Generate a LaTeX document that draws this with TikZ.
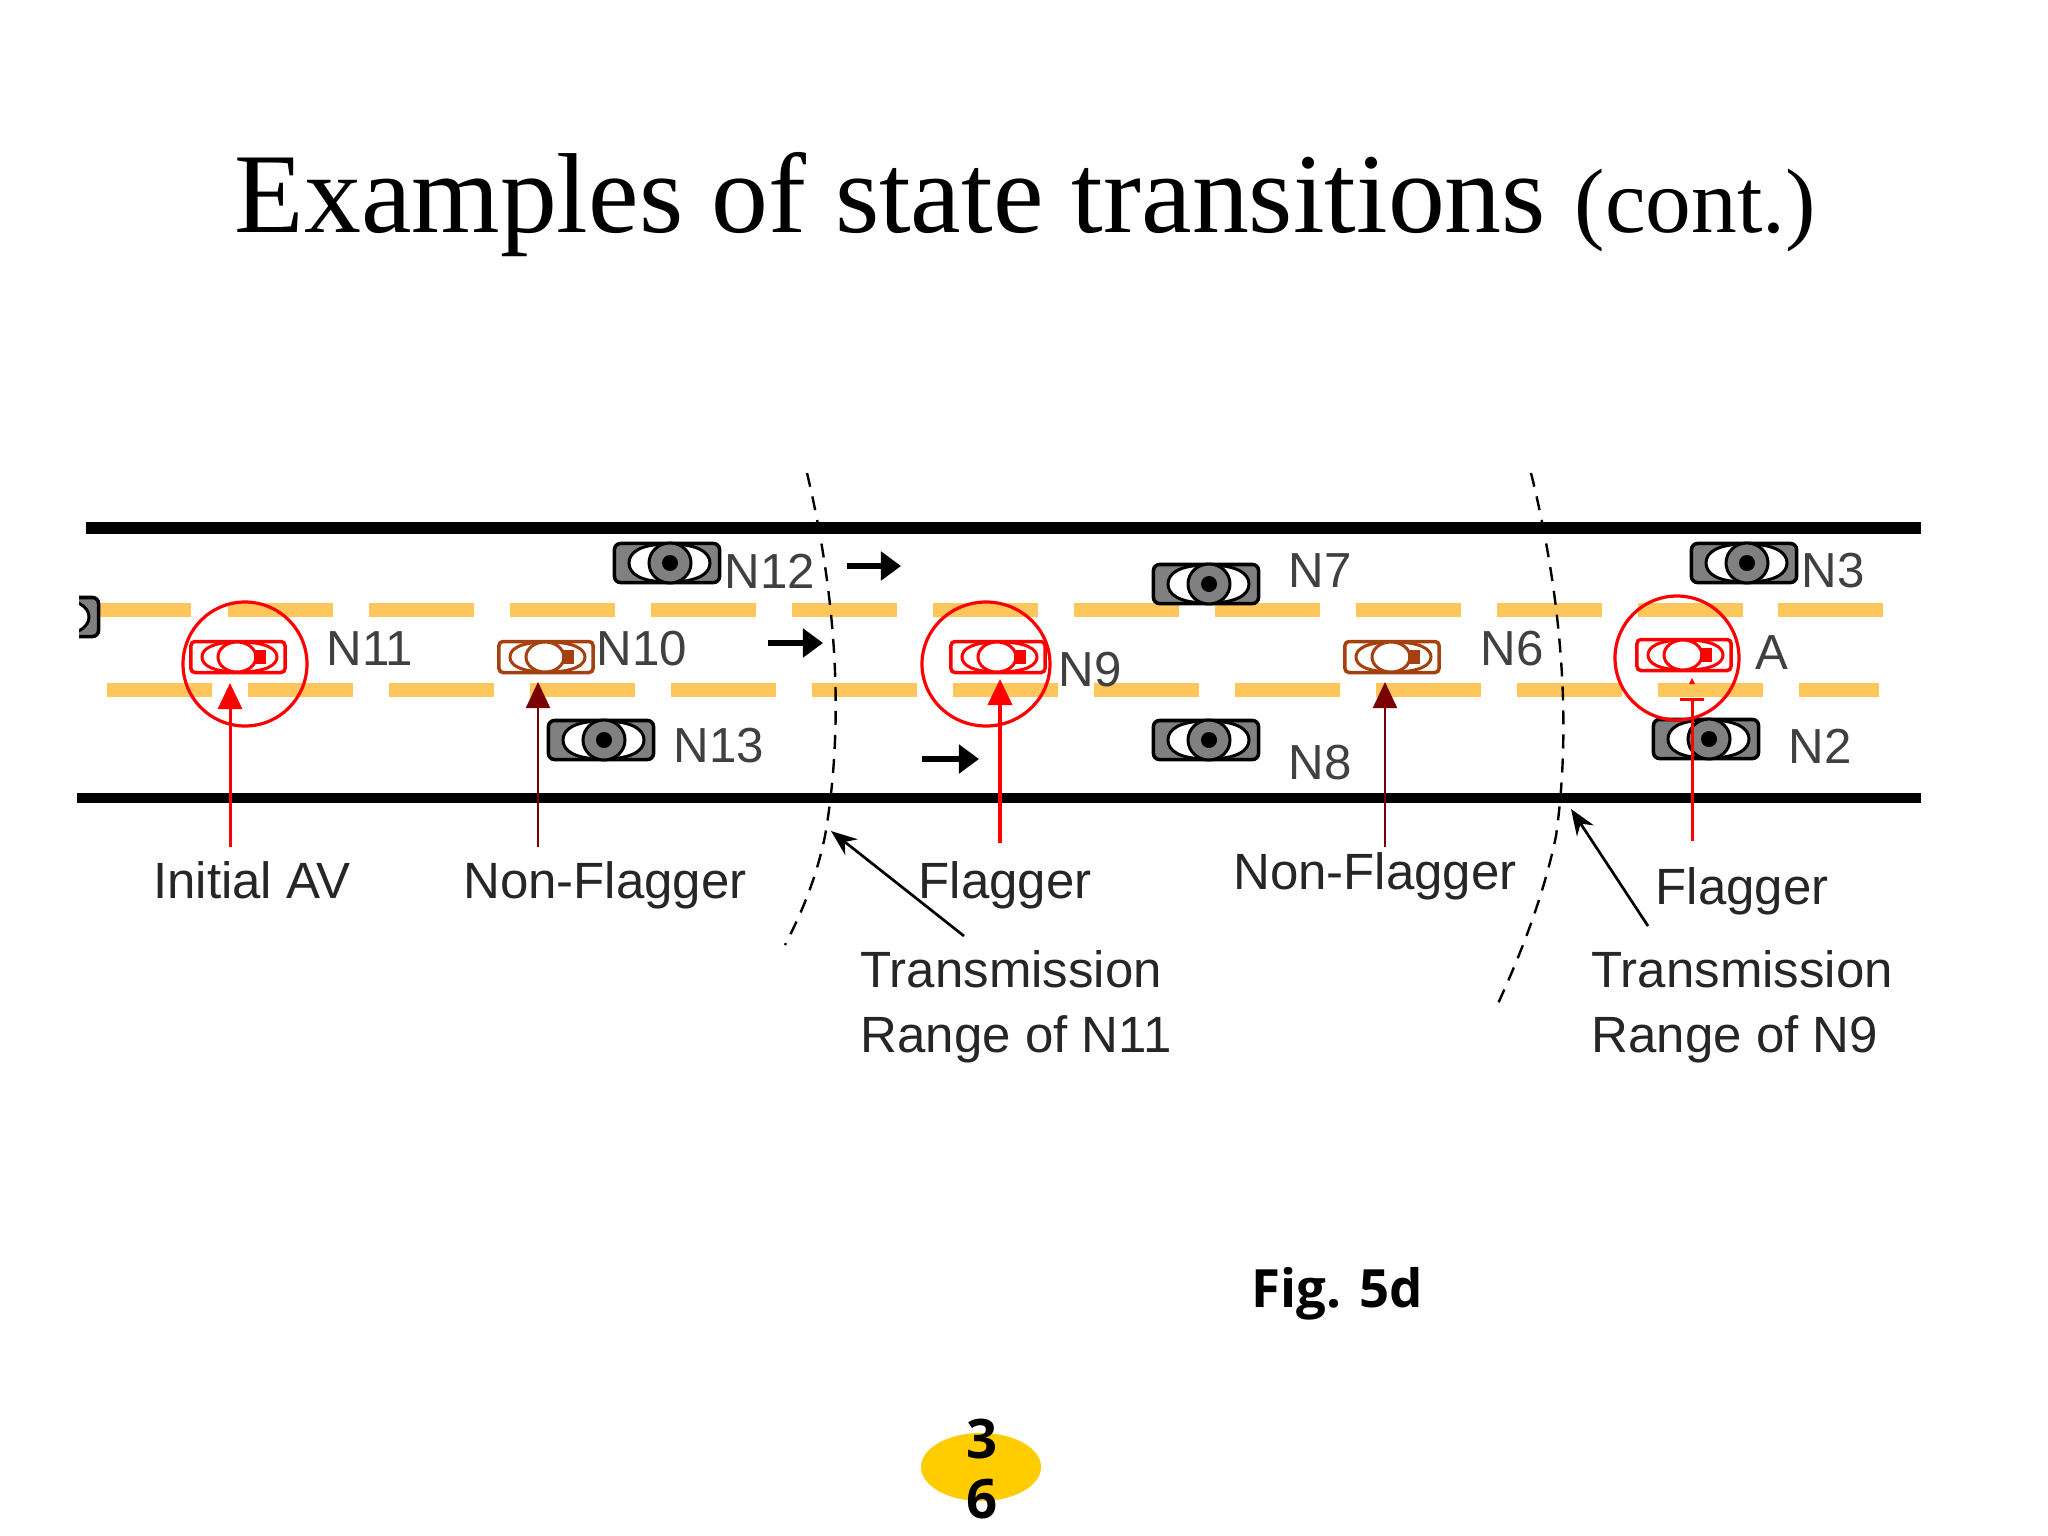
\documentclass[tikz,border=0pt]{standalone}
\usepackage{fontspec}
\setmainfont{Liberation Sans}
\newfontfamily\titlefont{Liberation Serif}
\newfontfamily\figfont{Open Sans}
\usetikzlibrary{arrows.meta,shapes.geometric}
\definecolor{lanecol}{HTML}{FFC65C}
\definecolor{browncol}{HTML}{A5400F}
\definecolor{darkred}{HTML}{7A0000}
\definecolor{bodygray}{HTML}{808080}
\definecolor{discol}{HTML}{FFCC00}
\tikzset{
  road/.style={line width=0.115cm,black},
  lane/.style={line width=0.145cm,lanecol},
  graybody/.style={draw=black,line width=0.035cm,fill=bodygray,rounded corners=0.06cm,minimum width=1.05cm,minimum height=0.39cm,inner sep=0pt},
  linebody/.style={draw=#1,line width=0.035cm,fill=white,rounded corners=0.04cm,minimum width=0.94cm,minimum height=0.31cm,inner sep=0pt},
  pics/graywin/.style={code={
    \draw[black,line width=0.03cm,fill=white] (2,-19) .. controls (-28,-19) and (-38,-10) .. (-38,0) .. controls (-38,10) and (-28,19) .. (2,19) .. controls (32,19) and (43,10) .. (43,0) .. controls (43,-10) and (32,-19) .. cycle;
    \draw[black,line width=0.03cm,fill=bodygray] (3,0) ellipse [x radius=21,y radius=20];
    \fill[black] (3,0) circle [radius=8];
  }},
  pics/linewin/.style={code={
    \draw[#1,line width=0.03cm] (1,-15) .. controls (-26,-15) and (-36,-8) .. (-36,0) .. controls (-36,8) and (-26,15) .. (1,15) .. controls (28,15) and (39,8) .. (39,0) .. controls (39,-8) and (28,-15) .. cycle;
    \draw[#1,line width=0.03cm,fill=white] (-1,0) ellipse [x radius=19,y radius=15];
    \fill[#1] (16,-7) rectangle (28,7);
  }},
  rangering/.style={draw=red,line width=0.032cm},
  tag/.style={inner sep=0pt,text=black!75,font=\fontsize{14}{17}\selectfont},
  caption/.style={inner sep=0pt,text=black!85,font=\fontsize{14.5}{18.5}\selectfont},
  redup/.style={-{Triangle[length=0.26cm,width=0.24cm]},red,line width=0.03cm},
  darkup/.style={-{Triangle[length=0.26cm,width=0.24cm]},darkred,line width=0.022cm},
  move/.style={-{Triangle[length=0.2cm,width=0.28cm]},black,line width=0.06cm},
  pointer/.style={-{Stealth[length=0.26cm,width=0.2cm]},black,line width=0.027cm},
  rangeline/.style={black,line width=0.024cm,dash pattern=on 0.14cm off 0.1cm}
}
\begin{document}
\begin{tikzpicture}[x=0.01cm,y=-0.01cm]
  \useasboundingbox (0,0) rectangle (2048,1536);
  % title
  \node[anchor=base west,inner sep=0pt,font=\titlefont\fontsize{32.35}{38}\selectfont] (title) at (234,232) {Examples of state transitions};
  \node[anchor=base west,inner sep=0pt,font=\titlefont\fontsize{26}{30}\selectfont] (cont) at (1574,232) {(cont.)};
  % lanes
  \draw[lane] (98,610) -- (191,610);
  \foreach \x in {228,369,510,651,792,933,1074,1215,1356,1497,1638,1778}
    \draw[lane] (\x,610) -- ++(105,0);
  \foreach \x in {107,248,389,530,671,812,953,1094,1235,1376,1517,1658}
    \draw[lane] (\x,690) -- ++(105,0);
  \draw[lane] (1799,690) -- (1879,690);
  \draw[road] (86,528) -- (1921,528);
  \draw[road,line width=0.1cm] (77,798) -- (1921,798);
  % cars
  \begin{scope}
    \clip (79,560) rectangle (120,680);
    \node[graybody] (carM) at (46,617) {};
    \pic at (carM) {graywin};
  \end{scope}
  \foreach \name/\x/\y in {N12/667/563,N13/601/740,N7/1206/584,N8/1206/740,N3/1744/563,N2/1706/739} {
    \node[graybody] (car\name) at (\x,\y) {};
    \pic at (car\name) {graywin};
  }
  \foreach \name/\x/\y in {N11/238/657,N9/998/657,A/1684/655} {
    \node[linebody=red] (car\name) at (\x,\y) {};
    \pic at (car\name) {linewin=red};
  }
  \foreach \name/\x/\y in {N10/546/657,N6/1392/657} {
    \node[linebody=browncol] (car\name) at (\x,\y) {};
    \pic at (car\name) {linewin=browncol};
  }
  % range of the flaggers
  \draw[rangering] (245,664) ellipse [x radius=62,y radius=62];
  \draw[rangering] (986,664) ellipse [x radius=64,y radius=62];
  \draw[rangering] (1677,658) ellipse [x radius=62,y radius=62];
  % texts
  \foreach \name/\x/\y in {N12/770/571,N13/719/746,N7/1320/571,N8/1320/763,N3/1833/571,N2/1820/746,N11/370/649,N10/642/649,N9/1090/670,N6/1512/649,A/1772/653}
    \node[tag] (tag\name) at (\x,\y) {\name};
  \node[caption,anchor=base] (capA) at (252,898) {Initial AV};
  \node[caption,anchor=base] (capB) at (605,898) {Non-Flagger};
  \node[caption,anchor=base] (capC) at (1005,898) {Flagger};
  \node[caption,anchor=base] (capD) at (1375,889) {Non-Flagger};
  \node[caption,anchor=base] (capE) at (1742,904) {Flagger};
  \node[caption,align=left,anchor=west] (rangeA) at (860,1007) {Transmission\\Range of N11};
  \node[caption,align=left,anchor=west] (rangeB) at (1591,1007) {Transmission\\Range of N9};
  % arrows from the captions
  \coordinate (footA) at (230,847);
  \coordinate (footB) at (538,847);
  \coordinate (footC) at (1000,843);
  \coordinate (footD) at (1385,847);
  \coordinate (footE) at (1692,841);
  \coordinate (tipE) at (1692,699);
  \draw[redup] (footA) -- (footA |- 0,683);
  \draw[darkup] (footB) -- (footB |- 0,682);
  \draw[redup,line width=0.04cm] (footC) -- (footC |- 0,679);
  \draw[darkup] (footD) -- (footD |- 0,682);
  \draw[red,line width=0.03cm] (footE) -- (tipE);
  \draw[red,line width=0.03cm] (1680,699) -- (1704,699);
  \fill[red] (1689,684) -- (1695,684) -- (1692,678) -- cycle;
  % moving cars
  \coordinate (moveA) at (847,566);
  \coordinate (moveB) at (901,566);
  \coordinate (moveC) at (768,643);
  \coordinate (moveD) at (823,643);
  \coordinate (moveE) at (922,759);
  \coordinate (moveF) at (979,759);
  \draw[move] (moveA) -- (moveB);
  \draw[move] (moveC) -- (moveD);
  \draw[move] (moveE) -- (moveF);
  % transmission ranges
  \draw[rangeline] (807,473) .. controls (834,586) and (846,715) .. (825,836) .. controls (816,879) and (802,912) .. (785,945);
  \draw[rangeline] (1531,473) .. controls (1559,586) and (1573,715) .. (1556,836) .. controls (1543,899) and (1519,958) .. (1496,1008);
  \coordinate (ptrA) at (964,936);
  \coordinate (ptrB) at (831,831);
  \coordinate (ptrC) at (1648,926);
  \coordinate (ptrD) at (1571,809);
  \draw[pointer] (ptrA) -- (ptrB);
  \draw[pointer] (ptrC) -- (ptrD);
  % figure and page number
  \node[inner sep=0pt,font=\figfont\bfseries\fontsize{15}{18}\selectfont] (fig) at (1337,1294) {Fig. 5d};
  \node[ellipse,fill=discol,inner sep=0pt,minimum width=1.2cm,minimum height=0.68cm] (pagedisc) at (981,1467) {};
  \node[inner sep=0pt,align=center,font=\figfont\bfseries\fontsize{15.5}{17}\selectfont] (pagenum) at (982,1469) {3\\6};
\end{tikzpicture}
\end{document}
